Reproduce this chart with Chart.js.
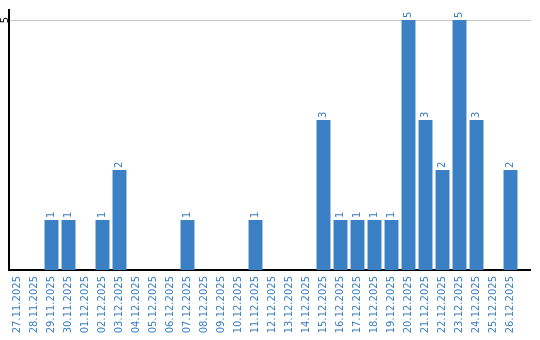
<!DOCTYPE html>
<html>
<head>
<meta charset="utf-8">
<script src="https://cdn.jsdelivr.net/npm/chart.js@4/dist/chart.umd.min.js"></script>
<style>
  html, body { margin: 0; padding: 0; background: #fff; }
  #wrap { width: 540px; height: 340px; }
</style>
</head>
<body>
<div id="wrap"><canvas id="chart"></canvas></div>
<script>
// dates on the x axis
const days = [
    "27.11.2025", "28.11.2025", "29.11.2025", "30.11.2025", "01.12.2025",
    "02.12.2025", "03.12.2025", "04.12.2025", "05.12.2025", "06.12.2025",
    "07.12.2025", "08.12.2025", "09.12.2025", "10.12.2025", "11.12.2025",
    "12.12.2025", "13.12.2025", "14.12.2025", "15.12.2025", "16.12.2025",
    "17.12.2025", "18.12.2025", "19.12.2025", "20.12.2025", "21.12.2025",
    "22.12.2025", "23.12.2025", "24.12.2025", "25.12.2025", "26.12.2025"
];
// count per day
const counts = [
    0, 0, 1, 1, 0,
    1, 2, 0, 0, 0,
    1, 0, 0, 0, 1,
    0, 0, 0, 3, 1,
    1, 1, 1, 5, 3,
    2, 5, 3, 0, 2
];
// y tick labels shown
const yTicks = [5];

const blue = "#3b7fc4";
const fontFamily = "'DejaVu Sans', sans-serif";

// draws rotated value labels, the y tick label and the extended lines
const extras = {
    id: "extras",
    afterDatasetsDraw(chart) {
        const ctx = chart.ctx;
        const area = chart.chartArea;
        const y = chart.scales.y;
        const meta = chart.getDatasetMeta(0);

        ctx.save();
        // lines run a bit past the last category
        ctx.lineWidth = 1;
        yTicks.forEach(v => {
            const py = Math.round(y.getPixelForValue(v)) + 0.5;
            ctx.strokeStyle = "#c8c8c8";
            ctx.beginPath();
            ctx.moveTo(area.right, py);
            ctx.lineTo(531, py);
            ctx.stroke();
        });
        ctx.strokeStyle = "#000";
        ctx.lineWidth = 2;
        const py0 = y.getPixelForValue(0);
        ctx.beginPath();
        ctx.moveTo(area.right - 1, py0);
        ctx.lineTo(531, py0);
        ctx.stroke();

        // value labels above the bars
        ctx.font = "10px " + fontFamily;
        ctx.fillStyle = blue;
        ctx.textAlign = "left";
        ctx.textBaseline = "middle";
        meta.data.forEach((bar, i) => {
            if (!counts[i]) return;
            ctx.save();
            ctx.translate(bar.x, bar.y - 2);
            ctx.rotate(-Math.PI / 2);
            ctx.fillText(String(counts[i]), 0, 0);
            ctx.restore();
        });

        // y tick labels
        ctx.fillStyle = "#000";
        ctx.textAlign = "center";
        yTicks.forEach(v => {
            ctx.save();
            ctx.translate(5, y.getPixelForValue(v));
            ctx.rotate(-Math.PI / 2);
            ctx.fillText(String(v), 0, 0);
            ctx.restore();
        });
        ctx.restore();
    }
};

const ctx = document.getElementById("chart").getContext("2d");
new Chart(ctx, {
    type: "bar",
    data: {
        labels: days,
        datasets: [{
            data: counts,
            backgroundColor: blue,
            borderWidth: 0,
            categoryPercentage: 1,
            barPercentage: 0.82
        }]
    },
    options: {
        responsive: true,
        maintainAspectRatio: false,
        animation: false,
        layout: { padding: { top: 10, right: 21, left: 0, bottom: 0 } },
        plugins: {
            legend: { display: false },
            tooltip: { enabled: false }
        },
        scales: {
            x: {
                grid: { display: false, drawTicks: false },
                border: { display: true, color: "#000", width: 2 },
                ticks: {
                    color: blue,
                    font: { family: fontFamily, size: 10 },
                    minRotation: 90,
                    maxRotation: 90,
                    autoSkip: false,
                    padding: 6
                },
                afterFit(scale) { scale.height = 70; }
            },
            y: {
                min: 0,
                max: 5.2,
                afterBuildTicks(scale) {
                    scale.ticks = yTicks.map(v => ({ value: v }));
                },
                grid: { color: "#c8c8c8", drawTicks: false },
                border: { display: true, color: "#000", width: 2 },
                ticks: { display: false },
                afterFit(scale) { scale.width = 9; }
            }
        }
    },
    plugins: [extras]
});
</script>
</body>
</html>
